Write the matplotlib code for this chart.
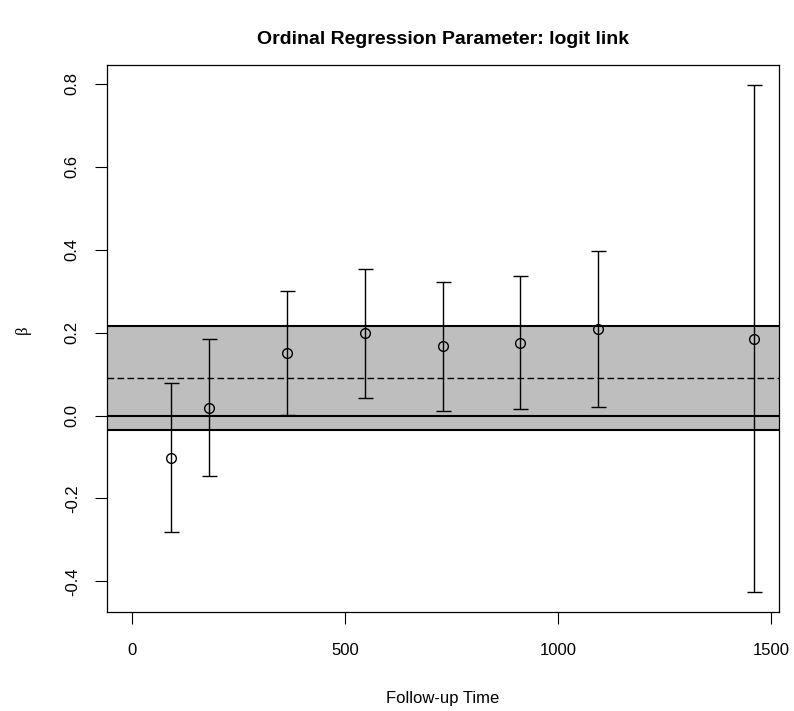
import numpy as np
import matplotlib
matplotlib.use("Agg")
import matplotlib.pyplot as plt

plt.rcParams['font.family'] = ['Liberation Sans', 'DejaVu Sans']
plt.rcParams['axes.unicode_minus'] = False

# follow-up times (days) and estimates with 95% intervals
days = [91, 182, 365, 547, 730, 912, 1095, 1460]
beta = [-0.102, 0.019, 0.151, 0.199, 0.167, 0.175, 0.208, 0.184]
lower = [-0.282, -0.145, 0.002, 0.043, 0.010, 0.015, 0.020, -0.425]
upper = [0.078, 0.184, 0.301, 0.354, 0.323, 0.337, 0.396, 0.797]

# pooled estimate and its interval
pooled = 0.091
pooled_lo = -0.034
pooled_hi = 0.215

xticks = [0, 500, 1000, 1500]
yticks = [-0.4, -0.2, 0.0, 0.2, 0.4, 0.6, 0.8]

fig = plt.figure(figsize=(7.94, 7.11), dpi=100)
ax = fig.add_axes([0.1348, 0.1392, 0.8460, 0.7698])

ax.axhspan(pooled_lo, pooled_hi, color='#bebebe', lw=0, zorder=1)
ax.axhline(pooled_hi, color='black', lw=1.5, zorder=2)
ax.axhline(pooled_lo, color='black', lw=1.5, zorder=2)
ax.axhline(pooled, color='black', lw=1.0, dashes=(4.8, 2.4), zorder=2)
ax.axhline(0, color='black', lw=1.5, zorder=2)

b = np.array(beta)
yerr = [b - np.array(lower), np.array(upper) - b]
ax.errorbar(days, beta, yerr=yerr, fmt='o', mfc='none', mec='black', mew=1.0,
            ms=7, ecolor='black', elinewidth=1.0, capsize=5.4, capthick=1.0, zorder=3)

# R-style 4% padding
xr = max(days) - 0
ax.set_xlim(0 - 0.04 * xr, max(days) + 0.04 * xr)
yr = max(upper) - min(lower)
ax.set_ylim(min(lower) - 0.04 * yr, max(upper) + 0.04 * yr)

ax.set_xticks(xticks)
ax.set_xticklabels([str(t) for t in xticks], fontsize=12)
ax.set_yticks(yticks)
ax.set_yticklabels([f"{t:.1f}" for t in yticks], fontsize=12, rotation=90, va='center')
ax.tick_params(axis='x', length=8.6, width=0.8, pad=14)
ax.tick_params(axis='y', length=8.6, width=0.8, pad=11)
for s in ax.spines.values():
    s.set_linewidth(0.9)

fig.text(443 / 794, 1 - 40 / 711, "Ordinal Regression Parameter: logit link",
         ha='center', va='center', fontsize=14, fontweight='bold')
fig.text(443 / 794, 1 - 698 / 711, "Follow-up Time", ha='center', va='center', fontsize=12)
fig.text(23 / 794, 1 - 330 / 711, "β", ha='center', va='center', fontsize=12,
         rotation=90, family=['Liberation Serif', 'DejaVu Serif'])

fig.savefig("out.png", dpi=100)
